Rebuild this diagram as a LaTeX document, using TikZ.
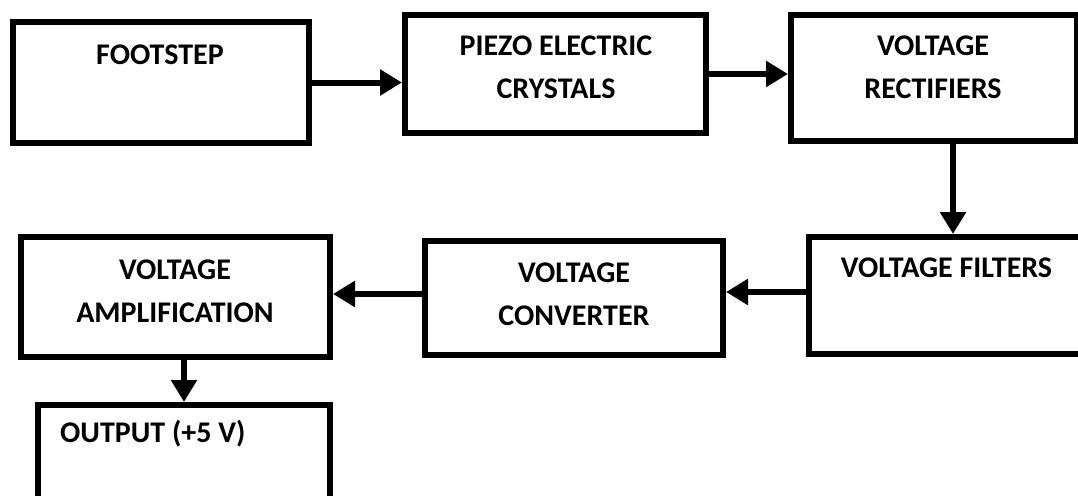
\documentclass[tikz,border=0pt]{standalone}
\usepackage{fontspec}
\setmainfont{Carlito}
\usetikzlibrary{arrows.meta}

\begin{document}
\begin{tikzpicture}[x=1pt,y=-1pt,
  blockbox/.style={draw,line width=6pt,rectangle,inner sep=0pt},
  blocktext/.style={inner sep=0pt,align=center,
    font=\bfseries\fontsize{30}{43}\selectfont},
  flow/.style={line width=6pt,-{Triangle[length=22pt,width=25pt]}}]
  \useasboundingbox (0,0) rectangle (1078,495);
  \clip (0,0) rectangle (1078,495);

  \node[blockbox,minimum width=296pt,minimum height=121pt] (foot) at (161,82.5) {};
  \node[blockbox,minimum width=301pt,minimum height=118pt] (piezo) at (555.5,74) {};
  \node[blockbox,minimum width=286pt,minimum height=126pt] (rect) at (934,78) {};
  \node[blockbox,minimum width=288pt,minimum height=117pt] (filt) at (953,295.5) {};
  \node[blockbox,minimum width=298pt,minimum height=114pt] (conv) at (574,298) {};
  \node[blockbox,minimum width=309pt,minimum height=120pt] (ampl) at (175.5,297) {};
  \node[blockbox,minimum width=292pt,minimum height=122pt] (outp) at (184,466) {};

  \node[blocktext] (footT) at (160,54.5) {FOOTSTEP};
  \node[blocktext] (piezoT) at (556,67.5) {PIEZO ELECTRIC\\CRYSTALS};
  \node[blocktext] (rectT) at (933,67.5) {VOLTAGE\\RECTIFIERS};
  \node[blocktext] (filtT) at (946.5,267.5) {VOLTAGE FILTERS};
  \node[blocktext] (convT) at (574,294) {VOLTAGE\\CONVERTER};
  \node[blocktext] (amplT) at (175,291) {VOLTAGE\\AMPLIFICATION};
  \node[blocktext,anchor=base west] (outpT) at (60,442) {OUTPUT (+5 V)};

  \draw[flow] (foot.east) -- (foot.east -| piezo.west);
  \draw[flow] (piezo.east) -- (piezo.east -| rect.west);
  \draw[flow] (filt.north |- rect.south) -- (filt.north);
  \draw[flow] ([yshift=3.5pt]filt.west) -- ([yshift=3.5pt]filt.west -| conv.east);
  \draw[flow] ([yshift=4pt]conv.west) -- ([yshift=4pt]conv.west -| ampl.east);
  \draw[flow] (outp.north |- ampl.south) -- (outp.north);
\end{tikzpicture}
\end{document}
